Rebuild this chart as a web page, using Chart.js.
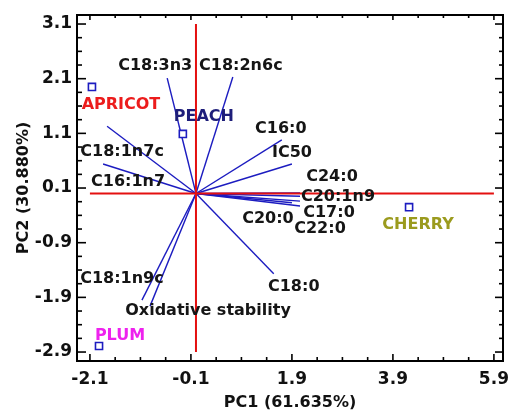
<!DOCTYPE html>
<html>
<head>
<meta charset="utf-8">
<title>PCA biplot</title>
<script src="https://cdn.jsdelivr.net/npm/chart.js@4/dist/chart.umd.min.js"></script>
<style>
  body { margin: 0; background: #fff; }
  canvas { display: block; }
</style>
</head>
<body>
<canvas id="biplot" width="510" height="412"></canvas>
<script>
// loadings (vectors from origin)
const vectorNames = ['C18:3n3', 'C18:2n6c', 'C18:1n7c', 'C16:1n7', 'C16:0', 'IC50', 'C24:0',
    'C20:1n9', 'C17:0', 'C22:0', 'C20:0', 'C18:0', 'C18:1n9c', 'Oxidative stability'];
const vectorX = [-0.57, 0.73, -1.76, -1.84, 1.70, 1.90, 2.06, 2.06, 2.06, 2.06, 1.90, 1.54, -1.07, -0.91];
const vectorY = [2.11, 2.13, 1.23, 0.54, 0.98, 0.54, 0.01, -0.05, -0.14, -0.23, -0.17, -1.47, -1.95, -2.06];

// scores (fruits)
const sampleNames = ['APRICOT', 'PEACH', 'CHERRY', 'PLUM'];
const sampleX = [-2.06, -0.26, 4.22, -1.92];
const sampleY = [1.95, 1.09, -0.25, -2.79];

const xTicks = [-2.1, -0.1, 1.9, 3.9, 5.9];
const yTicks = [-2.9, -1.9, -0.9, 0.1, 1.1, 2.1, 3.1];

const FONT = 'DejaVu Sans';
const BLUE = '#1c1cc0';
const RED = '#e41010';

// label offsets in pixels from the vector tip / sample point
const vecLabelOffset = {
    'C18:3n3': [-12, -12], 'C18:2n6c': [8, -11], 'C18:1n7c': [15, 26], 'C16:1n7': [25, 18],
    'C16:0': [-1, -11], 'IC50': [0, -11], 'C24:0': [32, -16], 'C20:1n9': [38, 1],
    'C17:0': [29, 12], 'C22:0': [20, 23], 'C20:0': [-24, 16], 'C18:0': [20, 13],
    'C18:1n9c': [-20, -21], 'Oxidative stability': [58, 5]
};
const sampleStyle = {
    'APRICOT': { off: [29, 18], color: '#ec1c1c' },
    'PEACH': { off: [21, -17], color: '#1e1e7a' },
    'CHERRY': { off: [9, 18], color: '#9b9b1e' },
    'PLUM': { off: [21, -10], color: '#ee22ee' }
};

const vectorSets = vectorNames.map((n, i) => ({
    type: 'line',
    label: n,
    data: [{ x: 0, y: 0 }, { x: vectorX[i], y: vectorY[i] }],
    borderColor: BLUE,
    borderWidth: 1.4,
    pointRadius: 0
}));

const frameTicks = {
    id: 'frameTicks',
    afterDraw(chart) {
        const { ctx, chartArea: a, scales: { x, y } } = chart;
        ctx.save();
        ctx.strokeStyle = '#000';
        ctx.lineWidth = 2;
        ctx.strokeRect(a.left, a.top, a.right - a.left, a.bottom - a.top);
        ctx.lineWidth = 1.6;
        const tick = (x1, y1, x2, y2) => { ctx.beginPath(); ctx.moveTo(x1, y1); ctx.lineTo(x2, y2); ctx.stroke(); };
        xTicks.forEach((v, i) => {
            const px = x.getPixelForValue(v);
            tick(px, a.bottom, px, a.bottom - 7);
            tick(px, a.top, px, a.top + 5);
            if (i < xTicks.length - 1) {
                const step = (xTicks[i + 1] - v) / 4;
                for (let k = 1; k < 4; k++) {
                    const m = x.getPixelForValue(v + k * step);
                    tick(m, a.bottom, m, a.bottom - 4);
                    tick(m, a.top, m, a.top + 3);
                }
            }
        });
        yTicks.forEach((v, i) => {
            const py = y.getPixelForValue(v);
            tick(a.left, py, a.left + 9, py);
            tick(a.right, py, a.right - 8, py);
            if (i < yTicks.length - 1) {
                const step = (yTicks[i + 1] - v) / 4;
                for (let k = 1; k < 4; k++) {
                    const m = y.getPixelForValue(v + k * step);
                    tick(a.left, m, a.left + 5, m);
                    tick(a.right, m, a.right - 4, m);
                }
            }
        });
        ctx.restore();
    },
    afterDatasetsDraw(chart) {
        const { ctx, scales: { x, y } } = chart;
        ctx.save();
        ctx.font = 'bold 16px "' + FONT + '"';
        ctx.textAlign = 'center';
        ctx.textBaseline = 'middle';
        ctx.fillStyle = '#151515';
        vectorNames.forEach((n, i) => {
            const o = vecLabelOffset[n];
            ctx.fillText(n, x.getPixelForValue(vectorX[i]) + o[0], y.getPixelForValue(vectorY[i]) + o[1]);
        });
        sampleNames.forEach((n, i) => {
            const s = sampleStyle[n];
            ctx.fillStyle = s.color;
            ctx.fillText(n, x.getPixelForValue(sampleX[i]) + s.off[0], y.getPixelForValue(sampleY[i]) + s.off[1]);
        });
        ctx.restore();
    }
};

new Chart(document.getElementById('biplot'), {
    type: 'scatter',
    data: {
        datasets: [
            {
                label: 'samples',
                data: sampleX.map((v, i) => ({ x: v, y: sampleY[i] })),
                pointStyle: 'rect',
                pointRadius: 5,
                borderColor: BLUE,
                borderWidth: 1.6,
                backgroundColor: '#fff'
            },
            {
                type: 'line', label: 'h',
                data: [{ x: xTicks[0], y: 0 }, { x: xTicks[xTicks.length - 1], y: 0 }],
                borderColor: RED, borderWidth: 2, pointRadius: 0
            },
            {
                type: 'line', label: 'v',
                data: [{ x: 0, y: yTicks[yTicks.length - 1] }, { x: 0, y: yTicks[0] }],
                borderColor: RED, borderWidth: 2, pointRadius: 0
            },
            ...vectorSets
        ]
    },
    options: {
        responsive: false,
        animation: false,
        devicePixelRatio: 1,
        layout: { padding: { top: 15, right: 7, left: 0, bottom: 0 } },
        plugins: { legend: { display: false }, tooltip: { enabled: false } },
        scales: {
            x: {
                type: 'linear',
                min: -2.356, max: 6.08,
                afterBuildTicks: s => { s.ticks = xTicks.map(v => ({ value: v })); },
                afterFit: s => { s.height = 51; s.paddingLeft = 0; s.paddingRight = 0; },
                grid: { display: false, drawTicks: false },
                border: { display: false },
                ticks: {
                    color: '#111', padding: 8, maxRotation: 0, autoSkip: false,
                    font: { family: FONT, size: 17, weight: 'bold' },
                    callback: v => v.toFixed(1)
                },
                title: {
                    display: true, text: 'PC1 (61.635%)', color: '#111',
                    font: { family: FONT, size: 16, weight: 'bold' },
                    padding: { top: 0, bottom: 0 }
                }
            },
            y: {
                type: 'linear',
                min: -3.064, max: 3.265,
                afterBuildTicks: s => { s.ticks = yTicks.map(v => ({ value: v })); },
                afterFit: s => { s.width = 77; s.paddingTop = 0; s.paddingBottom = 0; },
                grid: { display: false, drawTicks: false },
                border: { display: false },
                ticks: {
                    color: '#111', padding: 5, autoSkip: false,
                    font: { family: FONT, size: 17, weight: 'bold' },
                    callback: v => v.toFixed(1)
                },
                title: {
                    display: true, text: 'PC2 (30.880%)', color: '#111',
                    font: { family: FONT, size: 16, weight: 'bold' },
                    padding: { top: 14, bottom: 0 }
                }
            }
        }
    },
    plugins: [frameTicks]
});
</script>
</body>
</html>
